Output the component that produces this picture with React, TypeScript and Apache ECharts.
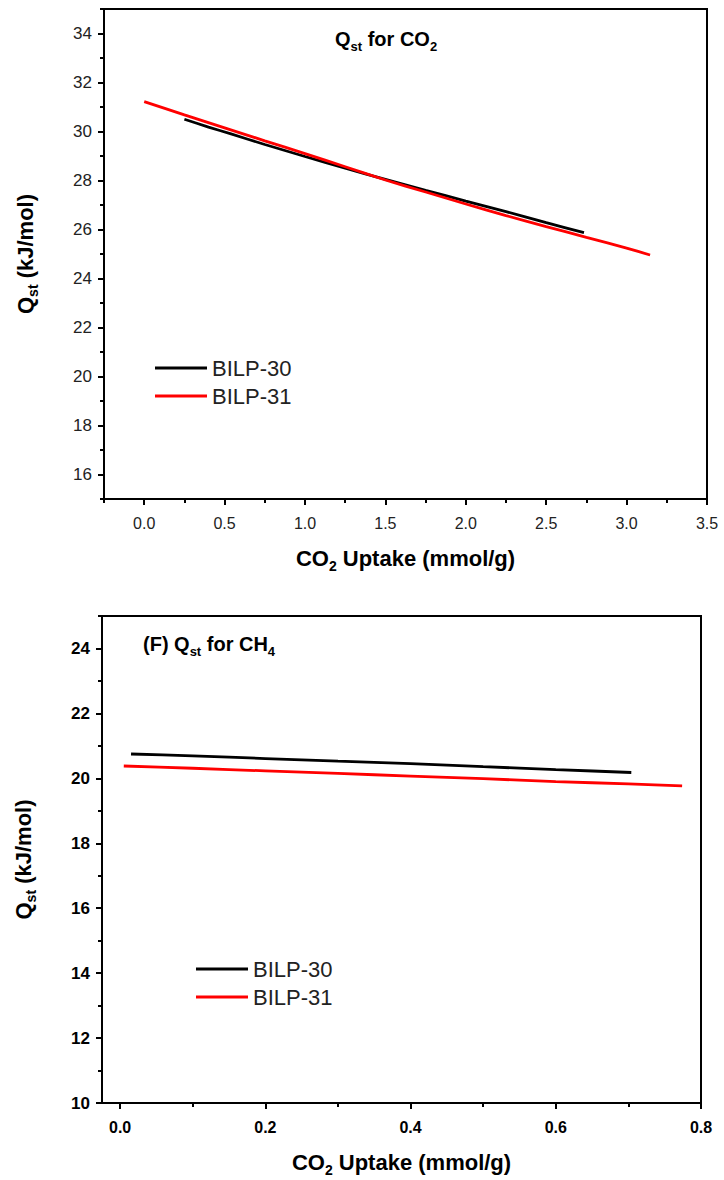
import React, { useEffect, useRef } from "react";
import * as echarts from "echarts";

// ---- Top panel: Qst for CO2 ----
const co2Bilp30X = [0.25, 0.4, 0.54, 0.75, 1.0, 1.25, 1.5, 1.75, 2.0, 2.25, 2.5, 2.735];
const co2Bilp30Y = [30.5, 30.18, 29.9, 29.47, 28.98, 28.5, 28.05, 27.6, 27.16, 26.73, 26.28, 25.87];
const co2Bilp31X = [0.0, 0.25, 0.5, 0.75, 1.0, 1.25, 1.5, 1.75, 2.0, 2.25, 2.5, 2.75, 3.0, 3.146];
const co2Bilp31Y = [31.22, 30.68, 30.15, 29.62, 29.1, 28.56, 28.02, 27.53, 27.04, 26.57, 26.12, 25.68, 25.24, 24.96];
const co2XMajor = [0, 0.5, 1.0, 1.5, 2.0, 2.5, 3.0, 3.5];
const co2XMinor = [-0.25, 0.25, 0.75, 1.25, 1.75, 2.25, 2.75, 3.25];
const co2YMajor = [16, 18, 20, 22, 24, 26, 28, 30, 32, 34];
const co2YMinor = [15, 17, 19, 21, 23, 25, 27, 29, 31, 33, 35];

// ---- Bottom panel: Qst for CH4 ----
const ch4Bilp30X = [0.015, 0.1, 0.2, 0.3, 0.4, 0.5, 0.6, 0.704];
const ch4Bilp30Y = [20.75, 20.69, 20.61, 20.53, 20.45, 20.36, 20.27, 20.18];
const ch4Bilp31X = [0.005, 0.1, 0.2, 0.3, 0.4, 0.5, 0.6, 0.7, 0.774];
const ch4Bilp31Y = [20.38, 20.31, 20.23, 20.15, 20.07, 19.99, 19.9, 19.83, 19.77];
const ch4XMajor = [0, 0.2, 0.4, 0.6, 0.8];
const ch4XMinor = [0.1, 0.3, 0.5, 0.7];
const ch4YMajor = [10, 12, 14, 16, 18, 20, 22, 24];
const ch4YMinor = [11, 13, 15, 17, 19, 21, 23, 25];

const seriesNames = ["BILP-30", "BILP-31"];

const FONT = "'Liberation Sans', Arial, sans-serif";

const zip = (xs: number[], ys: number[]) => xs.map((x, i) => [x, ys[i]]);

const subRich = (size: number) => ({
  s: { fontSize: size, fontWeight: "bold", fontFamily: FONT, color: "#000", verticalAlign: "bottom", lineHeight: size },
});

function axes(
  dim: "x" | "y",
  gridIndex: number,
  min: number,
  max: number,
  major: number[],
  minor: number[],
  fmt: (v: number) => string,
  labelBold: boolean,
  labelColor: string,
  name: string,
  nameGap: number
) {
  const position = dim === "x" ? "bottom" : "left";
  const main: any = {
    type: "value",
    gridIndex,
    min,
    max,
    position,
    axisLine: { show: true, onZero: false, lineStyle: { color: "#000", width: 2 } },
    axisTick: { show: true, customValues: major, length: 6, inside: false, lineStyle: { color: "#000", width: 2 } },
    axisLabel: {
      customValues: major,
      formatter: (v: number) => fmt(v),
      color: labelColor,
      fontSize: dim === "x" ? 16 : 17,
      fontWeight: labelBold ? "bold" : "normal",
      fontFamily: FONT,
      margin: dim === "x" ? 16 : 12,
    },
    splitLine: { show: false },
    name,
    nameLocation: "middle",
    nameGap,
    nameTextStyle: {
      fontSize: 22,
      fontWeight: "bold",
      fontFamily: FONT,
      color: "#000",
      lineHeight: 30,
      rich: subRich(14),
    },
  };
  const sub: any = {
    type: "value",
    gridIndex,
    min,
    max,
    position,
    axisLine: { show: false, onZero: false },
    axisTick: { show: true, customValues: minor, length: 4, inside: false, lineStyle: { color: "#000", width: 2 } },
    axisLabel: { show: false },
    splitLine: { show: false },
  };
  return [main, sub];
}

export default function App() {
  const ref = useRef<HTMLDivElement>(null);

  useEffect(() => {
    if (!ref.current) return;
    const chart = echarts.init(ref.current, null, { renderer: "svg" });

    const lineSeries = (name: string, data: number[][], color: string, xi: number, yi: number) => ({
      type: "line",
      name,
      data,
      xAxisIndex: xi,
      yAxisIndex: yi,
      showSymbol: false,
      smooth: 0.15,
      color,
      lineStyle: { color, width: 2.8 },
      z: name === seriesNames[1] ? 3 : 2,
    });

    const legendBase = {
      orient: "vertical",
      icon: "rect",
      itemWidth: 52,
      itemHeight: 3,
      itemGap: 6,
      padding: 0,
      data: seriesNames,
      textStyle: { fontSize: 22, color: "#222", fontFamily: FONT },
      selectedMode: false,
    };

    const titleStyle = {
      fontSize: 20,
      fontWeight: "bold",
      fontFamily: FONT,
      color: "#000",
      lineHeight: 28,
      rich: subRich(13),
    };

    const xTop = axes("x", 0, -0.25, 3.5, co2XMajor, co2XMinor, (v) => v.toFixed(1), false, "#222",
      "CO{s|2} Uptake (mmol/g)", 44);
    const yTop = axes("y", 0, 15, 35, co2YMajor, co2YMinor, (v) => String(v), false, "#222",
      "Q{s|st} (kJ/mol)", 64);
    const xBot = axes("x", 1, -0.025, 0.8, ch4XMajor, ch4XMinor, (v) => v.toFixed(1), true, "#000",
      "CO{s|2} Uptake (mmol/g)", 44);
    const yBot = axes("y", 1, 10, 25, ch4YMajor, ch4YMinor, (v) => String(v), true, "#000",
      "Q{s|st} (kJ/mol)", 64);

    chart.setOption({
      animation: false,
      backgroundColor: "#fff",
      grid: [
        { left: 104, top: 9, width: 603, height: 490, show: true, borderColor: "#000", borderWidth: 2, backgroundColor: "transparent" },
        { left: 101, top: 616, width: 600, height: 487, show: true, borderColor: "#000", borderWidth: 2, backgroundColor: "transparent" },
      ],
      title: [
        { text: "Q{s|st} for CO{s|2}", left: 335, top: 25, textStyle: titleStyle, padding: 0 },
        { text: "(F) Q{s|st} for CH{s|4}", left: 143, top: 630, textStyle: titleStyle, padding: 0 },
      ],
      legend: [
        { ...legendBase, left: 155, top: 357 },
        { ...legendBase, left: 196, top: 958 },
      ],
      xAxis: [...xTop, ...xBot],
      yAxis: [...yTop, ...yBot],
      series: [
        lineSeries(seriesNames[0], zip(co2Bilp30X, co2Bilp30Y), "#000000", 0, 0),
        lineSeries(seriesNames[1], zip(co2Bilp31X, co2Bilp31Y), "#ff0000", 0, 0),
        lineSeries(seriesNames[0], zip(ch4Bilp30X, ch4Bilp30Y), "#000000", 2, 2),
        lineSeries(seriesNames[1], zip(ch4Bilp31X, ch4Bilp31Y), "#ff0000", 2, 2),
      ],
    });

    return () => chart.dispose();
  }, []);

  return (
    <div
      ref={ref}
      style={{ position: "absolute", left: 0, top: 0, width: 724, height: 1180, background: "#fff" }}
    />
  );
}
